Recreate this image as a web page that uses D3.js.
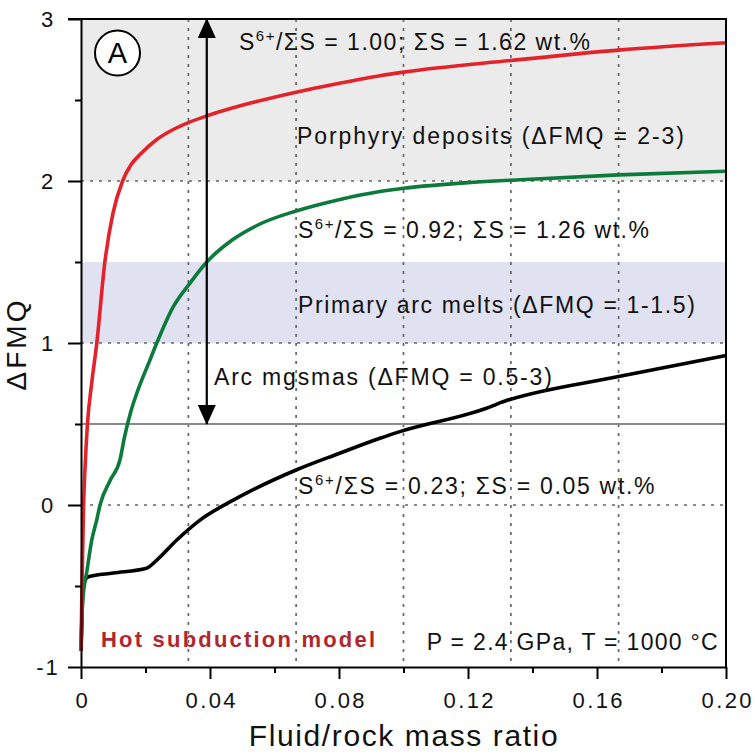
<!DOCTYPE html>
<html>
<head>
<meta charset="utf-8">
<script src="https://cdn.jsdelivr.net/npm/d3@7"></script>
<style>
  body { margin: 0; background: #fff; }
  svg { display: block; font-family: "Liberation Sans", Arial, sans-serif; }
</style>
</head>
<body>
<div id="graf"></div>
<script>
// ---- data ----
const xTicks = [0, 0.04, 0.08, 0.12, 0.16, 0.20];
const xTickLabels = ["0", "0.04", "0.08", "0.12", "0.16", "0.20"];
const xMinor = [0.02, 0.06, 0.10, 0.14, 0.18];
const yTicks = [-1, 0, 1, 2, 3];
const yTickLabels = ["-1", "0", "1", "2", "3"];
const yMinor = [-0.5, 0.5, 1.5, 2.5];
const gridX = [0.0333, 0.0667, 0.1, 0.1333, 0.1667];
const gridY = [0, 1, 2];

// S6+/SumS = 1.00 (red)
const fluidRed = [0, 0.0003, 0.0008, 0.0013, 0.002, 0.0033, 0.0049, 0.0074, 0.0099, 0.0129, 0.0155, 0.0183,
  0.0235, 0.0286, 0.0335, 0.039, 0.0472, 0.0667, 0.0782, 0.0927, 0.1, 0.1333, 0.1667, 0.2];
const fmqRed = [-0.9, -0.5, 0, 0.25, 0.5, 0.75, 1.0, 1.5, 1.8, 2.0, 2.1, 2.163,
  2.256, 2.318, 2.362, 2.402, 2.452, 2.548, 2.596, 2.65, 2.672, 2.744, 2.808, 2.853];

// S6+/SumS = 0.92 (green)
const fluidGreen = [0, 0.0005, 0.0019, 0.0033, 0.0049, 0.0059, 0.009, 0.0121, 0.0135, 0.0155, 0.0173, 0.0214, 0.0235,
  0.0285, 0.0338, 0.039, 0.0472, 0.055, 0.0667, 0.08, 0.0927, 0.1, 0.12, 0.1333, 0.1667, 0.2];
const fmqGreen = [-0.9, -0.6, -0.4, -0.22, -0.09, 0, 0.15, 0.28, 0.42, 0.58, 0.69, 0.896, 1.0,
  1.22, 1.37, 1.5, 1.64, 1.73, 1.815, 1.885, 1.935, 1.955, 1.99, 2.005, 2.038, 2.06];

// S6+/SumS = 0.23 (black)
const fluidBlack = [0, 0.0003, 0.0006, 0.0023, 0.01, 0.0203, 0.0235, 0.0297, 0.0369, 0.0472, 0.0667, 0.08,
  0.0927, 0.0989, 0.128, 0.130, 0.1315, 0.1667, 0.2];
const fmqBlack = [-0.9, -0.7, -0.5, -0.443, -0.42, -0.391, -0.34, -0.216, -0.093, 0.03, 0.216, 0.318,
  0.412, 0.453, 0.615, 0.632, 0.642, 0.793, 0.923];

const bands = [
  {y0: 2, y1: 3, fill: "#ebebeb"},
  {y0: 1, y1: 1.5, fill: "#e1e2f1"}
];
const refLine = 0.5;
const arrowX = 0.039, arrowTop = 3, arrowBottom = 0.5;

const draw = () => {
  const width = 755, height = 755;
  const margin = {top: 19, right: 29, bottom: 88, left: 81};

  const x = d3.scaleLinear().domain([0, 0.2]).range([margin.left, width - margin.right]);
  const y = d3.scaleLinear().domain([-1, 3]).range([height - margin.bottom, margin.top]);

  const svg = d3.select("#graf").append("svg")
      .attr("width", width).attr("height", height)
      .attr("viewBox", [0, 0, width, height]);

  const defs = svg.append("defs");
  defs.append("marker")
      .attr("id", "head")
      .attr("viewBox", "0 0 20 18")
      .attr("refX", 19).attr("refY", 9)
      .attr("markerUnits", "userSpaceOnUse")
      .attr("markerWidth", 20).attr("markerHeight", 18)
      .attr("orient", "auto-start-reverse")
    .append("path")
      .attr("d", "M0,0 L20,9 L0,18 Z")
      .attr("fill", "#000");

  // shaded bands
  svg.append("g").selectAll("rect")
    .data(bands)
    .join("rect")
      .attr("x", x(0))
      .attr("width", x(0.2) - x(0))
      .attr("y", d => y(d.y1))
      .attr("height", d => y(d.y0) - y(d.y1))
      .attr("fill", d => d.fill);

  // dotted grid
  const grid = svg.append("g")
      .attr("stroke", "#666")
      .attr("stroke-width", 1.7)
      .attr("stroke-dasharray", "3,6");
  grid.selectAll(".gx").data(gridX).join("line")
      .attr("class", "gx")
      .attr("x1", d => x(d)).attr("x2", d => x(d))
      .attr("y1", y(3)).attr("y2", y(-1));
  grid.selectAll(".gy").data(gridY).join("line")
      .attr("class", "gy")
      .attr("x1", x(0)).attr("x2", x(0.2))
      .attr("y1", d => y(d)).attr("y2", d => y(d));

  // reference line dFMQ = 0.5
  svg.append("line")
      .attr("x1", x(0)).attr("x2", x(0.2))
      .attr("y1", y(refLine)).attr("y2", y(refLine))
      .attr("stroke", "#8a8a8a")
      .attr("stroke-width", 1.8);

  // curves
  const line = d3.line().x(d => x(d[0])).y(d => y(d[1])).curve(d3.curveMonotoneX);
  const series = [
    {xs: fluidBlack, ys: fmqBlack, color: "#000000"},
    {xs: fluidGreen, ys: fmqGreen, color: "#0b7a3b"},
    {xs: fluidRed, ys: fmqRed, color: "#e4222b"}
  ];
  svg.append("g").selectAll("path")
    .data(series)
    .join("path")
      .attr("fill", "none")
      .attr("stroke", d => d.color)
      .attr("stroke-width", 3.6)
      .attr("stroke-linejoin", "round")
      .attr("d", d => line(d.xs.map((v, i) => [v, d.ys[i]])));

  // double arrow
  svg.append("line")
      .attr("x1", x(arrowX)).attr("x2", x(arrowX))
      .attr("y1", y(arrowTop)).attr("y2", y(arrowBottom))
      .attr("stroke", "#000")
      .attr("stroke-width", 2.2)
      .attr("marker-start", "url(#head)")
      .attr("marker-end", "url(#head)");

  // annotations
  const notes = svg.append("g")
      .attr("font-size", 23)
      .attr("letter-spacing", 1.5)
      .attr("fill", "#111");

  const sText = (tx, ty, a, b, ls) => {
    const t = notes.append("text").attr("x", tx).attr("y", ty).attr("letter-spacing", ls);
    t.append("tspan").text("S");
    t.append("tspan").attr("font-size", 15).attr("dy", -9).text("6+");
    t.append("tspan").attr("dy", 9).text(`/ΣS = ${a}; ΣS = ${b} wt.%`);
  };
  sText(239, 50, "1.00", "1.62", 1.5);
  sText(298, 238, "0.92", "1.26", 1.5);
  sText(298, 494, "0.23", "0.05", 1.7);

  notes.append("text").attr("x", 297).attr("y", 144)
      .attr("letter-spacing", 1.9)
      .text("Porphyry deposits (ΔFMQ = 2-3)");
  notes.append("text").attr("x", 298).attr("y", 313)
      .attr("letter-spacing", 1.65)
      .text("Primary arc melts (ΔFMQ = 1-1.5)");
  notes.append("text").attr("x", 214).attr("y", 385)
      .attr("letter-spacing", 1.8)
      .text("Arc mgsmas (ΔFMQ = 0.5-3)");
  notes.append("text").attr("x", 719).attr("y", 650)
      .attr("text-anchor", "end")
      .attr("letter-spacing", 1.3)
      .text("P = 2.4 GPa, T = 1000 °C");

  svg.append("text")
      .attr("x", 101).attr("y", 647)
      .attr("font-size", 22)
      .attr("font-weight", "bold")
      .attr("letter-spacing", 2.2)
      .attr("fill", "#b0262c")
      .text("Hot subduction model");

  // panel label
  svg.append("circle")
      .attr("cx", 117.5).attr("cy", 53).attr("r", 22.5)
      .attr("fill", "#fff").attr("stroke", "#000").attr("stroke-width", 2);
  svg.append("text")
      .attr("x", 117.5).attr("y", 63)
      .attr("text-anchor", "middle")
      .attr("font-size", 29)
      .text("A");

  // axes
  const xAxis = svg.append("g")
      .attr("transform", `translate(0,${y(-1)})`)
      .call(d3.axisBottom(x).tickValues(xTicks).tickFormat((d, i) => xTickLabels[i])
        .tickSize(12).tickPadding(13).tickSizeOuter(0));
  xAxis.append("g")
      .call(d3.axisBottom(x).tickValues(xMinor).tickFormat("").tickSize(6).tickSizeOuter(0))
      .select(".domain").remove();
  xAxis.selectAll("text").attr("font-size", 22).attr("letter-spacing", 2.4)
      .attr("dx", 1.2)
      .attr("fill", "#111").attr("font-family", null);

  const yAxis = svg.append("g")
      .attr("transform", `translate(${x(0)},0)`)
      .call(d3.axisLeft(y).tickValues(yTicks).tickFormat((d, i) => yTickLabels[i])
        .tickSize(13).tickSizeOuter(0));
  yAxis.append("g")
      .call(d3.axisLeft(y).tickValues(yMinor).tickFormat("").tickSize(6).tickSizeOuter(0))
      .select(".domain").remove();
  yAxis.selectAll("text").attr("font-size", 22).attr("letter-spacing", 2)
      .attr("text-anchor", "middle").attr("x", 48 - x(0))
      .attr("fill", "#111").attr("font-family", null);

  svg.selectAll(".domain, .tick line").attr("stroke", "#000").attr("stroke-width", 2);

  // top and right frame
  svg.append("path")
      .attr("fill", "none")
      .attr("stroke", "#000")
      .attr("stroke-width", 2)
      .attr("d", `M${x(0) - 13},${y(3)} H${x(0.2)} V${y(-1)}`);

  // axis titles
  svg.append("text")
      .attr("x", 404).attr("y", 746)
      .attr("text-anchor", "middle")
      .attr("font-size", 30)
      .attr("letter-spacing", 1.6)
      .attr("fill", "#111")
      .text("Fluid/rock mass ratio");

  svg.append("text")
      .attr("transform", `translate(26,344) rotate(-90)`)
      .attr("text-anchor", "middle")
      .attr("font-size", 28)
      .attr("letter-spacing", 3)
      .attr("fill", "#111")
      .text("ΔFMQ");
};

draw();
</script>
</body>
</html>
